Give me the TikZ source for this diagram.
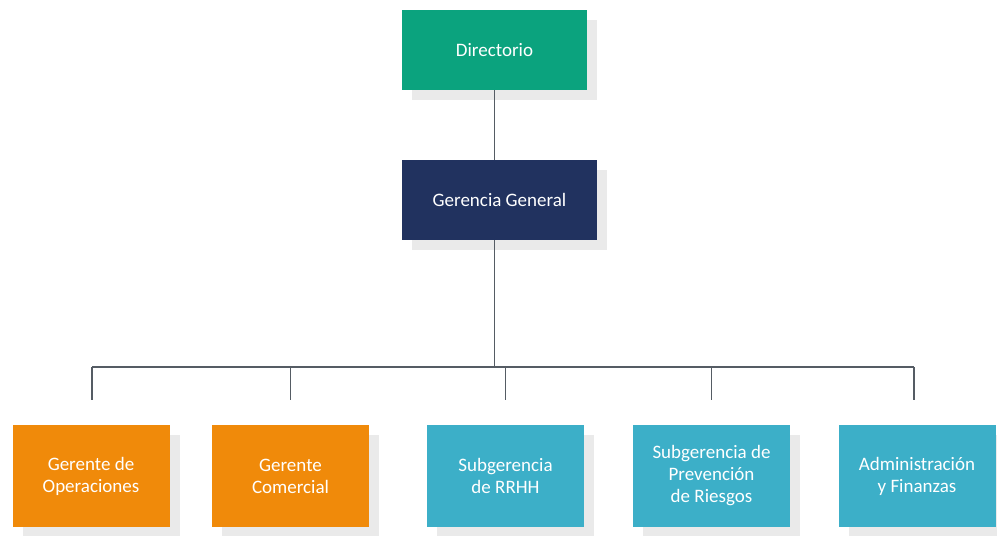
\documentclass[tikz,border=0pt]{standalone}
\usepackage{fontspec}
\setmainfont{Carlito}
\usepackage{tikz}
\usepackage{xcolor}
\usetikzlibrary{shadows}
\definecolor{dir-green}{HTML}{0BA37E}
\definecolor{gg-navy}{HTML}{21325F}
\definecolor{ger-orange}{HTML}{F08A0A}
\definecolor{sub-teal}{HTML}{3CAFC8}
\definecolor{org-grey}{HTML}{555C64}
\definecolor{shade-grey}{HTML}{EAEAEA}
\tikzset{
    org-box/.style = {rectangle, text=white, align=center, inner sep=0pt,
        font=\fontsize{19}{22}\selectfont,
        drop shadow={shadow xshift=10pt, shadow yshift=-10pt, fill=shade-grey, opacity=1}},
    top-box/.style = {org-box, minimum height=80pt},
    low-box/.style = {org-box, minimum width=157pt, minimum height=102pt},
    org-line/.style = {draw=org-grey, line width=1.2pt},
}

\begin{document}
\begin{tikzpicture}[x=1pt, y=1pt]
\useasboundingbox (0,0) rectangle (997,-536);
\node[top-box, fill=dir-green, minimum width=185pt] (dir) at (494.5,-50) {Directorio};
\node[top-box, fill=gg-navy, minimum width=195pt] (gg) at (499.5,-200) {Gerencia General};

\node[low-box, fill=ger-orange] (op) at (91,-476) {Gerente de\\Operaciones};
\node[low-box, fill=ger-orange] (com) at (290.5,-476) {Gerente\\Comercial};
\node[low-box, fill=sub-teal] (rrhh) at (505.5,-476) {Subgerencia\\de RRHH};
\node[low-box, fill=sub-teal] (prev) at (711.5,-476) {Subgerencia de\\Prevención\\de Riesgos};
\node[low-box, fill=sub-teal] (adm) at (917,-476) {Administración\\y Finanzas};

\coordinate (bus-l) at (92,-367);
\coordinate (bus-r) at (914,-367);

\draw[org-line] (dir.south) -- (dir.south |- gg.north);
\draw[org-line] (dir.south |- gg.south) -- (dir.south |- bus-l);
\draw[org-line] (bus-l) -- (bus-r);

\draw[org-line] (bus-l) -- ([yshift=25pt]bus-l |- op.north);
\draw[org-line] (com.north |- bus-l) -- ([yshift=25pt]com.north);
\draw[org-line] (rrhh.north |- bus-l) -- ([yshift=25pt]rrhh.north);
\draw[org-line] (prev.north |- bus-l) -- ([yshift=25pt]prev.north);
\draw[org-line] (bus-r) -- ([yshift=25pt]bus-r |- adm.north);
\end{tikzpicture}
\end{document}
